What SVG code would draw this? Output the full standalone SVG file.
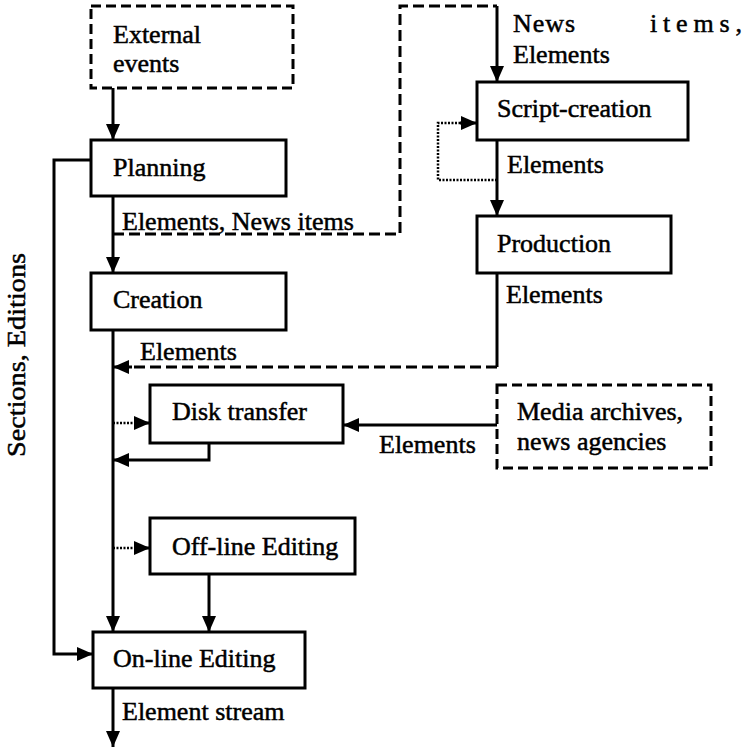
<svg xmlns="http://www.w3.org/2000/svg" width="749" height="749" viewBox="0 0 749 749">
  <style>
    .box { fill: #fff; stroke: #000; stroke-width: 3; }
    .ext { fill: #fff; stroke: #000; stroke-width: 3; stroke-dasharray: 10 5; }
    .ln { fill: none; stroke: #000; stroke-width: 3; }
    .dash { fill: none; stroke: #000; stroke-width: 3; stroke-dasharray: 11 5; }
    .dot { fill: none; stroke: #000; stroke-width: 2.5; stroke-dasharray: 2 1.5; }
    text { font-family: "Liberation Serif", "Times New Roman", serif; font-size: 26px; fill: #000; stroke: #000; stroke-width: 0.5; }
  </style>
  <defs>
    <marker id="arr" markerUnits="userSpaceOnUse" markerWidth="18" markerHeight="14" refX="16" refY="7" orient="auto">
      <path d="M0,0 L16,7 L0,14 Z" fill="#000"/>
    </marker>
  </defs>
  <rect width="749" height="749" fill="#fff"/>

  <!-- connectors -->
  <g id="connectors">
    <!-- External events to Planning -->
    <path class="ln" d="M113,88 V140" marker-end="url(#arr)"/>
    <!-- Planning to Creation -->
    <path class="ln" d="M113,196 V273" marker-end="url(#arr)"/>
    <!-- Planning branch to Script-creation -->
    <path class="dash" d="M113,234 H400 V6 H497"/>
    <path class="ln" d="M497,6 V82" marker-end="url(#arr)"/>
    <!-- Script-creation self loop -->
    <path class="dot" d="M497,180 H438 V123 H462"/>
    <path class="ln" d="M460,123 H477" marker-end="url(#arr)"/>
    <!-- Script-creation to Production -->
    <path class="ln" d="M497,140 V216" marker-end="url(#arr)"/>
    <!-- Production back to main stream -->
    <path class="ln" d="M497,273 V367"/>
    <path class="dash" d="M497,367 H130"/>
    <path class="ln" d="M132,367 H113" marker-end="url(#arr)"/>
    <!-- Sections, Editions -->
    <path class="ln" d="M91,160 H54 V654 H93" marker-end="url(#arr)"/>
    <!-- Creation to On-line Editing -->
    <path class="ln" d="M113,330 V632" marker-end="url(#arr)"/>
    <!-- Disk transfer -->
    <path class="dot" d="M113,423 H136"/>
    <path class="ln" d="M134,423 H150" marker-end="url(#arr)"/>
    <path class="ln" d="M209,443 V460 H113" marker-end="url(#arr)"/>
    <!-- Media archives to Disk transfer -->
    <path class="ln" d="M497,425 H343" marker-end="url(#arr)"/>
    <!-- Off-line Editing -->
    <path class="dot" d="M113,548 H136"/>
    <path class="ln" d="M134,548 H150" marker-end="url(#arr)"/>
    <path class="ln" d="M209,574 V632" marker-end="url(#arr)"/>
    <!-- output -->
    <path class="ln" d="M113,688 V747" marker-end="url(#arr)"/>
  </g>

  <!-- connector labels -->
  <g id="labels">
    <text x="122" y="230">Elements, News items</text>
    <text x="513" y="32" textLength="62" lengthAdjust="spacing">News</text>
    <text x="650" y="32" textLength="92" lengthAdjust="spacing">items,</text>
    <text x="513" y="63">Elements</text>
    <text x="507" y="173">Elements</text>
    <text x="506" y="303">Elements</text>
    <text x="140" y="360">Elements</text>
    <text x="379" y="453">Elements</text>
    <text x="122" y="720">Element stream</text>
    <text transform="translate(25,457) rotate(-90)" x="0" y="0" textLength="204" lengthAdjust="spacingAndGlyphs">Sections, Editions</text>
  </g>

  <!-- nodes -->
  <g id="external-events">
    <rect class="ext" x="91" y="6" width="202" height="82"/>
    <text x="113" y="43">External</text>
    <text x="113" y="72">events</text>
  </g>
  <g id="planning">
    <rect class="box" x="91" y="140" width="195" height="56"/>
    <text x="113" y="176">Planning</text>
  </g>
  <g id="script-creation">
    <rect class="box" x="477" y="82" width="211" height="58"/>
    <text x="497" y="117">Script-creation</text>
  </g>
  <g id="production">
    <rect class="box" x="477" y="216" width="194" height="57"/>
    <text x="497" y="252">Production</text>
  </g>
  <g id="creation">
    <rect class="box" x="91" y="273" width="195" height="57"/>
    <text x="113" y="308">Creation</text>
  </g>
  <g id="disk-transfer">
    <rect class="box" x="150" y="385" width="193" height="58"/>
    <text x="172" y="420">Disk transfer</text>
  </g>
  <g id="media-archives">
    <rect class="ext" x="497" y="385" width="214" height="83"/>
    <text x="517" y="420">Media archives,</text>
    <text x="517" y="450">news agencies</text>
  </g>
  <g id="off-line-editing">
    <rect class="box" x="150" y="518" width="205" height="56"/>
    <text x="172" y="555">Off-line Editing</text>
  </g>
  <g id="on-line-editing">
    <rect class="box" x="93" y="632" width="212" height="56"/>
    <text x="113" y="667">On-line Editing</text>
  </g>
</svg>
